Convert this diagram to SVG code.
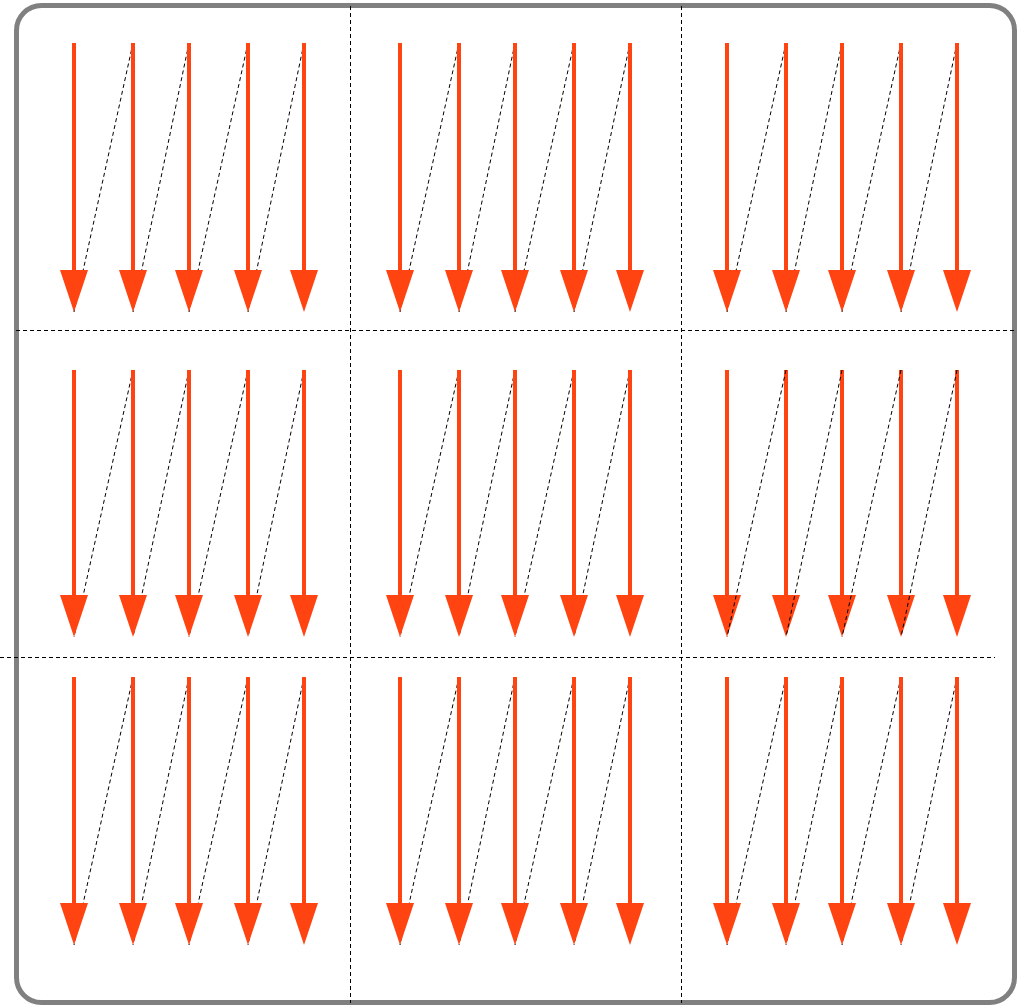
<svg xmlns="http://www.w3.org/2000/svg" width="1021" height="1006" viewBox="0 0 1021 1006">
<style>
.shaft{stroke:#FF4411;stroke-width:4;fill:none}
.head{fill:#FF4411;stroke:none}
.dash{stroke:#000;stroke-width:1;stroke-dasharray:4,3;fill:none}
.grid{stroke:#000;stroke-width:1;stroke-dasharray:4,3;fill:none}
</style>
<rect x="0" y="0" width="1021" height="1006" fill="#fff"/>
<g id="frame"><rect x="16.5" y="5.5" width="998" height="997" rx="25" ry="25" fill="none" stroke="#808080" stroke-width="5"/></g>
<g id="grid">
<line class="grid" x1="350.5" y1="6" x2="350.5" y2="1003"/>
<line class="grid" x1="681.5" y1="6" x2="681.5" y2="1003"/>
<line class="grid" x1="16" y1="330.5" x2="1014" y2="330.5"/>
<line class="grid" x1="0" y1="657.5" x2="995" y2="657.5"/>
</g>
<g id="connectors">
<g id="links-under">
<line class="dash" x1="133" y1="43" x2="74" y2="312"/><line class="dash" x1="189" y1="43" x2="133" y2="312"/><line class="dash" x1="248" y1="43" x2="189" y2="312"/><line class="dash" x1="304" y1="43" x2="248" y2="312"/>
<line class="dash" x1="459" y1="43" x2="400" y2="312"/><line class="dash" x1="515" y1="43" x2="459" y2="312"/><line class="dash" x1="574" y1="43" x2="515" y2="312"/><line class="dash" x1="630" y1="43" x2="574" y2="312"/>
<line class="dash" x1="786" y1="43" x2="727" y2="312"/><line class="dash" x1="842" y1="43" x2="786" y2="312"/><line class="dash" x1="901" y1="43" x2="842" y2="312"/><line class="dash" x1="957" y1="43" x2="901" y2="312"/>
<line class="dash" x1="133" y1="370" x2="74" y2="637"/><line class="dash" x1="189" y1="370" x2="133" y2="637"/><line class="dash" x1="248" y1="370" x2="189" y2="637"/><line class="dash" x1="304" y1="370" x2="248" y2="637"/>
<line class="dash" x1="459" y1="370" x2="400" y2="637"/><line class="dash" x1="515" y1="370" x2="459" y2="637"/><line class="dash" x1="574" y1="370" x2="515" y2="637"/><line class="dash" x1="630" y1="370" x2="574" y2="637"/>
<line class="dash" x1="133" y1="677" x2="74" y2="945"/><line class="dash" x1="189" y1="677" x2="133" y2="945"/><line class="dash" x1="248" y1="677" x2="189" y2="945"/><line class="dash" x1="304" y1="677" x2="248" y2="945"/>
<line class="dash" x1="459" y1="677" x2="400" y2="945"/><line class="dash" x1="515" y1="677" x2="459" y2="945"/><line class="dash" x1="574" y1="677" x2="515" y2="945"/><line class="dash" x1="630" y1="677" x2="574" y2="945"/>
<line class="dash" x1="786" y1="677" x2="727" y2="945"/><line class="dash" x1="842" y1="677" x2="786" y2="945"/><line class="dash" x1="901" y1="677" x2="842" y2="945"/><line class="dash" x1="957" y1="677" x2="901" y2="945"/>
</g>
<g id="arrows-r1">
<line class="shaft" x1="74" y1="43" x2="74" y2="272"/><polygon class="head" points="60,270 88,270 74,312"/>
<line class="shaft" x1="133" y1="43" x2="133" y2="272"/><polygon class="head" points="119,270 147,270 133,312"/>
<line class="shaft" x1="189" y1="43" x2="189" y2="272"/><polygon class="head" points="175,270 203,270 189,312"/>
<line class="shaft" x1="248" y1="43" x2="248" y2="272"/><polygon class="head" points="234,270 262,270 248,312"/>
<line class="shaft" x1="304" y1="43" x2="304" y2="272"/><polygon class="head" points="290,270 318,270 304,312"/>
<line class="shaft" x1="400" y1="43" x2="400" y2="272"/><polygon class="head" points="386,270 414,270 400,312"/>
<line class="shaft" x1="459" y1="43" x2="459" y2="272"/><polygon class="head" points="445,270 473,270 459,312"/>
<line class="shaft" x1="515" y1="43" x2="515" y2="272"/><polygon class="head" points="501,270 529,270 515,312"/>
<line class="shaft" x1="574" y1="43" x2="574" y2="272"/><polygon class="head" points="560,270 588,270 574,312"/>
<line class="shaft" x1="630" y1="43" x2="630" y2="272"/><polygon class="head" points="616,270 644,270 630,312"/>
<line class="shaft" x1="727" y1="43" x2="727" y2="272"/><polygon class="head" points="713,270 741,270 727,312"/>
<line class="shaft" x1="786" y1="43" x2="786" y2="272"/><polygon class="head" points="772,270 800,270 786,312"/>
<line class="shaft" x1="842" y1="43" x2="842" y2="272"/><polygon class="head" points="828,270 856,270 842,312"/>
<line class="shaft" x1="901" y1="43" x2="901" y2="272"/><polygon class="head" points="887,270 915,270 901,312"/>
<line class="shaft" x1="957" y1="43" x2="957" y2="272"/><polygon class="head" points="943,270 971,270 957,312"/>
</g>
<g id="arrows-r2">
<line class="shaft" x1="74" y1="370" x2="74" y2="597"/><polygon class="head" points="60,595 88,595 74,637"/>
<line class="shaft" x1="133" y1="370" x2="133" y2="597"/><polygon class="head" points="119,595 147,595 133,637"/>
<line class="shaft" x1="189" y1="370" x2="189" y2="597"/><polygon class="head" points="175,595 203,595 189,637"/>
<line class="shaft" x1="248" y1="370" x2="248" y2="597"/><polygon class="head" points="234,595 262,595 248,637"/>
<line class="shaft" x1="304" y1="370" x2="304" y2="597"/><polygon class="head" points="290,595 318,595 304,637"/>
<line class="shaft" x1="400" y1="370" x2="400" y2="597"/><polygon class="head" points="386,595 414,595 400,637"/>
<line class="shaft" x1="459" y1="370" x2="459" y2="597"/><polygon class="head" points="445,595 473,595 459,637"/>
<line class="shaft" x1="515" y1="370" x2="515" y2="597"/><polygon class="head" points="501,595 529,595 515,637"/>
<line class="shaft" x1="574" y1="370" x2="574" y2="597"/><polygon class="head" points="560,595 588,595 574,637"/>
<line class="shaft" x1="630" y1="370" x2="630" y2="597"/><polygon class="head" points="616,595 644,595 630,637"/>
<line class="shaft" x1="727" y1="370" x2="727" y2="597"/><polygon class="head" points="713,595 741,595 727,637"/>
<line class="shaft" x1="786" y1="370" x2="786" y2="597"/><polygon class="head" points="772,595 800,595 786,637"/>
<line class="shaft" x1="842" y1="370" x2="842" y2="597"/><polygon class="head" points="828,595 856,595 842,637"/>
<line class="shaft" x1="901" y1="370" x2="901" y2="597"/><polygon class="head" points="887,595 915,595 901,637"/>
<line class="shaft" x1="957" y1="370" x2="957" y2="597"/><polygon class="head" points="943,595 971,595 957,637"/>
</g>
<g id="arrows-r3">
<line class="shaft" x1="74" y1="677" x2="74" y2="905"/><polygon class="head" points="60,903 88,903 74,945"/>
<line class="shaft" x1="133" y1="677" x2="133" y2="905"/><polygon class="head" points="119,903 147,903 133,945"/>
<line class="shaft" x1="189" y1="677" x2="189" y2="905"/><polygon class="head" points="175,903 203,903 189,945"/>
<line class="shaft" x1="248" y1="677" x2="248" y2="905"/><polygon class="head" points="234,903 262,903 248,945"/>
<line class="shaft" x1="304" y1="677" x2="304" y2="905"/><polygon class="head" points="290,903 318,903 304,945"/>
<line class="shaft" x1="400" y1="677" x2="400" y2="905"/><polygon class="head" points="386,903 414,903 400,945"/>
<line class="shaft" x1="459" y1="677" x2="459" y2="905"/><polygon class="head" points="445,903 473,903 459,945"/>
<line class="shaft" x1="515" y1="677" x2="515" y2="905"/><polygon class="head" points="501,903 529,903 515,945"/>
<line class="shaft" x1="574" y1="677" x2="574" y2="905"/><polygon class="head" points="560,903 588,903 574,945"/>
<line class="shaft" x1="630" y1="677" x2="630" y2="905"/><polygon class="head" points="616,903 644,903 630,945"/>
<line class="shaft" x1="727" y1="677" x2="727" y2="905"/><polygon class="head" points="713,903 741,903 727,945"/>
<line class="shaft" x1="786" y1="677" x2="786" y2="905"/><polygon class="head" points="772,903 800,903 786,945"/>
<line class="shaft" x1="842" y1="677" x2="842" y2="905"/><polygon class="head" points="828,903 856,903 842,945"/>
<line class="shaft" x1="901" y1="677" x2="901" y2="905"/><polygon class="head" points="887,903 915,903 901,945"/>
<line class="shaft" x1="957" y1="677" x2="957" y2="905"/><polygon class="head" points="943,903 971,903 957,945"/>
</g>
<g id="links-over">
<line class="dash" x1="786" y1="370" x2="727" y2="637"/><line class="dash" x1="842" y1="370" x2="786" y2="637"/><line class="dash" x1="901" y1="370" x2="842" y2="637"/><line class="dash" x1="957" y1="370" x2="901" y2="637"/>
</g>
</g>
</svg>
